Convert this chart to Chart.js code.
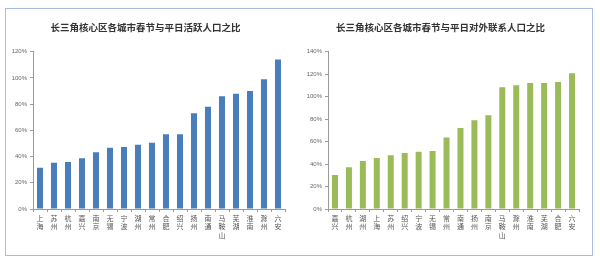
<!DOCTYPE html>
<html>
<head>
<meta charset="utf-8">
<script src="https://cdn.jsdelivr.net/npm/chart.js@4/dist/chart.umd.min.js"></script>
<style>
  html, body { margin: 0; padding: 0; background: #fff; }
  body { width: 600px; height: 261px; position: relative; overflow: hidden; }
  #frame { position: absolute; left: 5px; top: 8px; width: 588px; height: 248px; border: 1px solid #a9bde0; box-sizing: border-box; }
  .wrap { position: absolute; }
  #w1 { left: 6px; top: 9px; width: 294px; height: 247px; }
  #w2 { left: 302px; top: 9px; width: 294px; height: 247px; }
</style>
</head>
<body>
<div id="frame"></div>
<div class="wrap" id="w1"><canvas id="c1"></canvas></div>
<div class="wrap" id="w2"><canvas id="c2"></canvas></div>
<script>
// ---- Data ----
const title1 = '长三角核心区各城市春节与平日活跃人口之比';
const cities1 = ['上海','苏州','杭州','嘉兴','南京','无锡','宁波','湖州','常州','合肥','绍兴','扬州','南通','马鞍山','芜湖','淮南','滁州','六安'];
const values1 = [31.5, 35.3, 35.8, 38.7, 43.2, 46.8, 47.3, 49, 50.5, 57, 57, 73, 78, 86, 88, 90, 99, 114];
const yTicks1 = [0, 20, 40, 60, 80, 100, 120];

const title2 = '长三角核心区各城市春节与平日对外联系人口之比';
const cities2 = ['嘉兴','杭州','湖州','上海','苏州','绍兴','宁波','无锡','常州','南通','扬州','南京','马鞍山','滁州','淮南','芜湖','合肥','六安'];
const values2 = [30.3, 37.1, 42.7, 45.4, 47.8, 49.8, 51, 51.6, 63.6, 72.1, 78.9, 83.4, 108.3, 110.1, 112.1, 112.1, 113, 120.8];
const yTicks2 = [0, 20, 40, 60, 80, 100, 120, 140];

// ---- Chart builder ----
function vertical(name) { return name.split(''); }

function makeChart(id, title, cats, vals, ticks, color, yWidth, padRight) {
  const max = ticks[ticks.length - 1];
  return new Chart(document.getElementById(id), {
    type: 'bar',
    data: {
      labels: cats.map(vertical),
      datasets: [{ data: vals, backgroundColor: color, borderWidth: 0, barPercentage: 0.43, categoryPercentage: 1 }]
    },
    options: {
      responsive: true,
      maintainAspectRatio: false,
      animation: false,
      devicePixelRatio: 1,
      layout: { padding: { left: 0, right: padRight, top: 0, bottom: 0 } },
      plugins: {
        legend: { display: false },
        tooltip: { enabled: false },
        title: {
          display: true, text: title, color: '#333',
          font: { family: '"Noto Sans CJK SC", sans-serif', size: 9.5, weight: 'bold', lineHeight: 1.2 },
          padding: { top: 12.3, bottom: 19 }
        }
      },
      scales: {
        x: {
          grid: { display: true, drawOnChartArea: false, color: 'transparent', tickColor: '#9a9a9a', tickLength: 3, offset: true },
          border: { display: true, color: '#9a9a9a', width: 1 },
          ticks: { maxRotation: 0, minRotation: 0, autoSkip: false, padding: 2, color: '#555',
                   font: { family: '"Noto Sans CJK SC", sans-serif', size: 7, lineHeight: 1.2 } },
          afterFit: (s) => { s.height = 47; }
        },
        y: {
          min: 0, max: max,
          grid: { display: true, drawOnChartArea: false, color: 'transparent', tickColor: '#9a9a9a', tickLength: 3 },
          border: { display: true, color: '#9a9a9a', width: 1 },
          afterBuildTicks: (s) => { s.ticks = ticks.map(v => ({ value: v })); },
          ticks: { padding: 3, color: '#666', callback: (v) => v + '%',
                   font: { family: '"Liberation Sans", sans-serif', size: 6 } },
          afterFit: (s) => { s.width = yWidth; }
        }
      }
    }
  });
}

makeChart('c1', title1, cities1, values1, yTicks1, '#4a7ebb', 27, 15);
makeChart('c2', title2, cities2, values2, yTicks2, '#9bbb59', 26, 17);
</script>
</body>
</html>
